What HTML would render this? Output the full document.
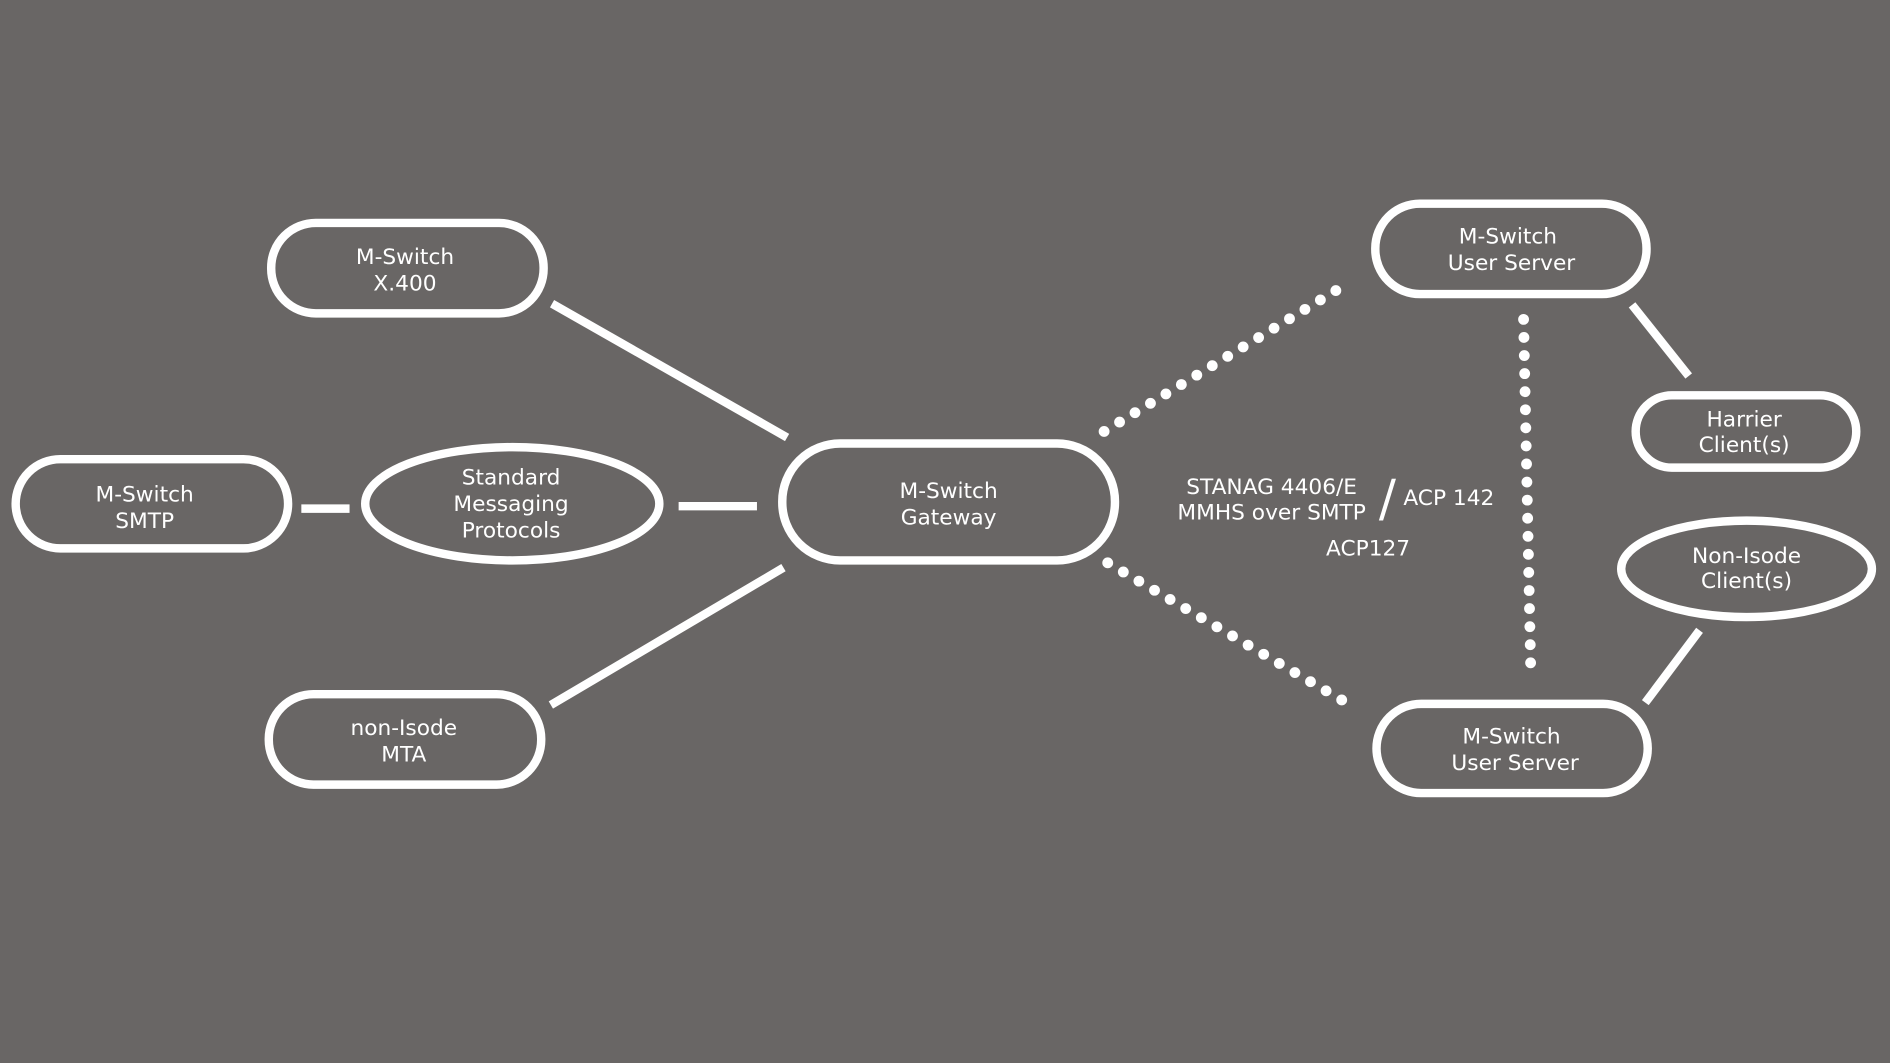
<!DOCTYPE html>
<html><head><style>
html,body{margin:0;padding:0;background:#696665;}
svg{display:block;}
text{font-family:"DejaVu Sans","Liberation Sans",sans-serif;fill:#fff;font-size:18px;text-anchor:middle;}
</style></head><body>
<svg width="1890" height="1063" viewBox="0 0 1568 882" preserveAspectRatio="none">
<rect width="1568" height="882" fill="#696665"/>
<g fill="none" stroke="#fff" stroke-width="7">
<rect x="225" y="185" width="226" height="75" rx="37"/>
<rect x="13" y="381" width="226" height="74" rx="37"/>
<ellipse cx="425" cy="418" rx="122" ry="47"/>
<rect x="223" y="576" width="226" height="75" rx="37"/>
<rect x="649" y="368" width="276" height="97" rx="48"/>
<rect x="1141" y="169" width="225" height="75" rx="37"/>
<rect x="1357" y="328" width="183" height="60" rx="30"/>
<ellipse cx="1449" cy="472" rx="104" ry="40"/>
<rect x="1142" y="584" width="225" height="74" rx="37"/>
<line x1="458" y1="252" x2="653" y2="363"/>
<line x1="250" y1="422" x2="290" y2="422"/>
<line x1="563" y1="420" x2="628" y2="420"/>
<line x1="457" y1="585" x2="650" y2="471"/>
<line x1="1354" y1="253" x2="1401" y2="312"/>
<line x1="1365" y1="583" x2="1410" y2="523"/>
</g>
<g fill="none" stroke="#fff" stroke-width="9" stroke-linecap="round" stroke-dasharray="0 15">
<line x1="916" y1="358" x2="1115" y2="237"/>
<line x1="919" y1="467" x2="1122" y2="586"/>
<line x1="1264" y1="265" x2="1270" y2="558"/>
</g>
<text x="336" y="219">M-Switch</text><text x="336" y="241">X.400</text>
<text x="120" y="416">M-Switch</text><text x="120" y="438">SMTP</text>
<text x="424" y="402">Standard</text><text x="424" y="424">Messaging</text><text x="424" y="446">Protocols</text>
<text x="335" y="610">non-Isode</text><text x="335" y="632">MTA</text>
<text x="787" y="413">M-Switch</text><text x="787" y="435">Gateway</text>
<text x="1251" y="202">M-Switch</text><text x="1254" y="224">User Server</text>
<text x="1447" y="354">Harrier</text><text x="1447" y="375">Client(s)</text>
<text x="1449" y="467">Non-Isode</text><text x="1449" y="488">Client(s)</text>
<text x="1254" y="617">M-Switch</text><text x="1257" y="639">User Server</text>
<text x="1055" y="410">STANAG 4406/E</text>
<text x="1055" y="431">MMHS over SMTP</text>
<text x="1151" y="428" style="font-size:42px">/</text>
<text x="1202" y="419">ACP 142</text>
<text x="1135" y="461">ACP127</text>
</svg>
</body></html>
